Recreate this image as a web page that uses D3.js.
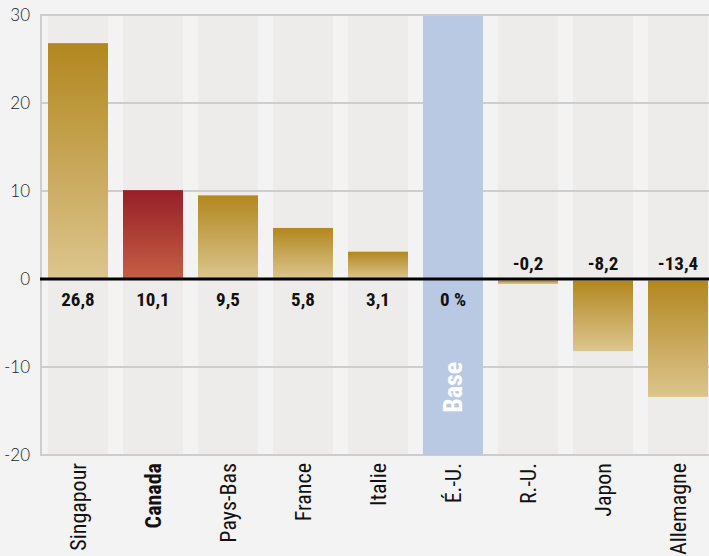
<!DOCTYPE html>
<html>
<head>
<meta charset="utf-8">
<script src="https://cdn.jsdelivr.net/npm/d3@7"></script>
<style>
  body { margin: 0; background: #f2f2f3; }
  svg { display: block; }
  .cond { font-family: "Liberation Sans Narrow", "Roboto Condensed", "DejaVu Sans Condensed", Roboto, sans-serif; }
</style>
</head>
<body>
<svg id="chart"></svg>
<script>
const size = {w: 709, h: 556};

const countries = ['Singapour', 'Canada', 'Pays-Bas', 'France', 'Italie', 'É.-U.', 'R.-U.', 'Japon', 'Allemagne'];
const values = [26.8, 10.1, 9.5, 5.8, 3.1, 0, -0.2, -8.2, -13.4];
const valueLabels = ['26,8', '10,1', '9,5', '5,8', '3,1', '0 %', '-0,2', '-8,2', '-13,4'];
const yTicks = [-20, -10, 0, 10, 20, 30];
const baseCountry = 'É.-U.';
const highlight = 'Canada';

const svg = d3.select('svg#chart')
    .attr('width', size.w)
    .attr('height', size.h);

const defs = svg.append('defs');
function gradient(id, top, bottom) {
    let g = defs.append('linearGradient')
        .attr('id', id)
        .attr('x1', 0).attr('y1', 0).attr('x2', 0).attr('y2', 1);
    g.append('stop').attr('offset', '0%').attr('stop-color', top);
    g.append('stop').attr('offset', '100%').attr('stop-color', bottom);
}
gradient('gold', '#b2871f', '#dcc58e');
gradient('red', '#971f28', '#c55f44');

let xScale = d3.scaleBand()
    .domain(countries)
    .range([40.5, 715.5])
    .paddingInner(0.2)
    .paddingOuter(0.1);

let yScale = d3.scaleLinear()
    .domain([-20, 30])
    .range([455, 15]);

// page background
svg.append('rect')
    .attr('width', size.w).attr('height', size.h)
    .attr('fill', '#f3f3f4');

// column bands behind bars
svg.append('g')
    .selectAll('rect')
    .data(countries)
    .join('rect')
    .attr('x', d => xScale(d))
    .attr('y', yScale(30))
    .attr('width', xScale.bandwidth())
    .attr('height', yScale(-20) - yScale(30))
    .attr('fill', '#edecea');

// gridlines
svg.append('g')
    .selectAll('line')
    .data(yTicks.filter(d => d !== 0))
    .join('line')
    .attr('x1', 40)
    .attr('x2', size.w)
    .attr('y1', d => yScale(d))
    .attr('y2', d => yScale(d))
    .attr('stroke', '#cdcdcd')
    .attr('stroke-width', 2);

// base column drawn over gridlines
svg.append('rect')
    .attr('x', xScale(baseCountry))
    .attr('y', yScale(30) + 1)
    .attr('width', xScale.bandwidth())
    .attr('height', yScale(-20) - yScale(30) - 1)
    .attr('fill', '#b9c9e3');

svg.append('line')
    .attr('x1', 41).attr('x2', 41)
    .attr('y1', yScale(30) - 1).attr('y2', yScale(-20) + 1)
    .attr('stroke', '#cdcdcd')
    .attr('stroke-width', 2);

// bars; negative ones start just under the thick zero line and stay visible
const zeroOffset = 1.5;
function barTop(d) { return d.v > 0 ? yScale(d.v) : yScale(0) + zeroOffset; }
function barBottom(d) { return d.v > 0 ? yScale(0) : Math.max(yScale(d.v), yScale(0) + 5); }
svg.append('g')
    .selectAll('rect')
    .data(countries.map((c, i) => ({c: c, v: values[i]})).filter(d => d.v !== 0))
    .join('rect')
    .attr('x', d => xScale(d.c))
    .attr('y', barTop)
    .attr('width', xScale.bandwidth())
    .attr('height', d => barBottom(d) - barTop(d))
    .attr('fill', d => d.c === highlight ? 'url(#red)' : 'url(#gold)');

// zero line
svg.append('line')
    .attr('x1', 40).attr('x2', size.w)
    .attr('y1', yScale(0)).attr('y2', yScale(0))
    .attr('stroke', '#000')
    .attr('stroke-width', 3);

// y tick labels
svg.append('g')
    .selectAll('text')
    .data(yTicks)
    .join('text')
    .attr('x', 30)
    .attr('y', d => yScale(d))
    .attr('dy', '0.35em')
    .attr('text-anchor', 'end')
    .attr('font-family', 'Lato, sans-serif')
    .attr('font-weight', 300)
    .attr('font-size', 17)
    .attr('fill', '#222')
    .text(d => d);

// value labels
svg.append('g')
    .selectAll('text')
    .data(countries.map((c, i) => ({c: c, v: values[i], l: valueLabels[i]})))
    .join('text')
    .classed('cond', true)
    .attr('x', d => xScale(d.c) + xScale.bandwidth() / 2)
    .attr('y', d => d.v >= 0 ? yScale(0) + 20 : yScale(0) - 16)
    .attr('dy', '0.35em')
    .attr('text-anchor', 'middle')
    .attr('font-weight', 'bold')
    .attr('font-size', 19)
    .attr('fill', '#111')
    .text(d => d.l);

// "Base" label
svg.append('text')
    .classed('cond', true)
    .attr('transform', `translate(${xScale(baseCountry) + xScale.bandwidth() / 2}, ${yScale(-12.3)}) rotate(-90)`)
    .attr('dy', '0.35em')
    .attr('text-anchor', 'middle')
    .attr('font-weight', 'bold')
    .attr('font-size', 26)
    .attr('fill', '#fff')
    .text('Base');

// x labels
svg.append('g')
    .selectAll('text')
    .data(countries)
    .join('text')
    .classed('cond', true)
    .attr('transform', d => `translate(${xScale(d) + xScale.bandwidth() / 2}, 463) rotate(-90)`)
    .attr('dy', '0.35em')
    .attr('text-anchor', 'end')
    .attr('font-weight', d => d === highlight ? 'bold' : 'normal')
    .attr('font-size', 22)
    .attr('fill', '#111')
    .text(d => d);
</script>
</body>
</html>
